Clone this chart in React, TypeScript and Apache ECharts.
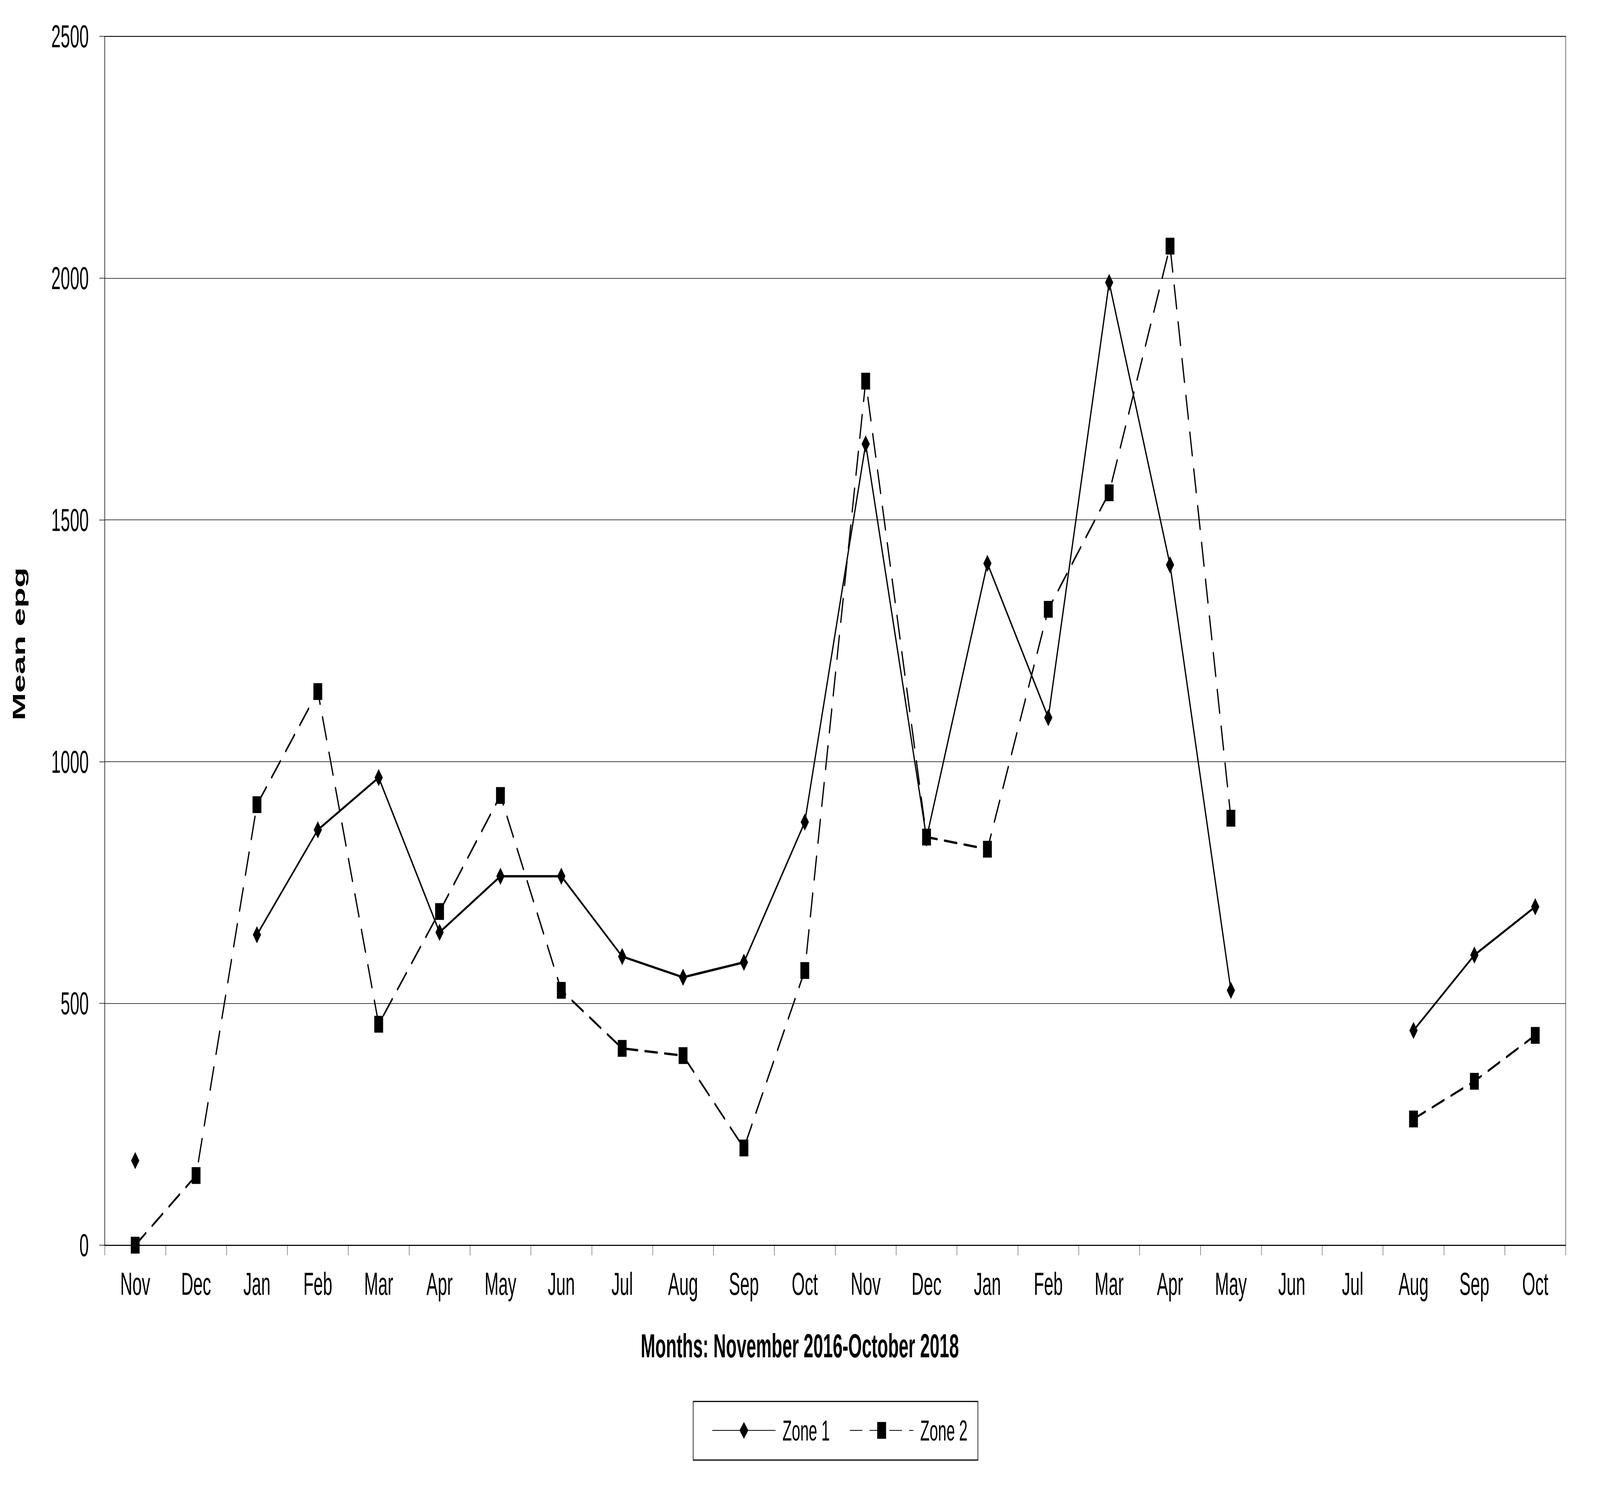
import React, { useEffect, useRef, useState } from "react";
import * as echarts from "echarts";

const months = [
  "Nov", "Dec", "Jan", "Feb", "Mar", "Apr", "May", "Jun", "Jul", "Aug", "Sep", "Oct",
  "Nov", "Dec", "Jan", "Feb", "Mar", "Apr", "May", "Jun", "Jul", "Aug", "Sep", "Oct",
];
const zone1: (number | null)[] = [
  175, null, 642, 859, 967, 647, 763, 763, 597, 554, 585, 875,
  1657, 842, 1410, 1091, 1991, 1407, 527, null, null, 444, 600, 700,
];
const zone2: (number | null)[] = [
  0, 144, 911, 1145, 457, 690, 930, 527, 407, 392, 201, 568,
  1787, 844, 819, 1315, 1556, 2066, 883, null, null, 261, 339, 434,
];
const seriesNames = ["Zone 1", "Zone 2"];
const yTitle = "Mean epg";
const xTitle = "Months: November 2016-October 2018";

const FONT = "Liberation Sans, Arial, Helvetica, sans-serif";
const W = 7788;
const H = 3852;

export default function App() {
  const ref = useRef<HTMLDivElement>(null);
  const [scale] = useState(() => ({
    sx: (window.innerWidth || W) / W,
    sy: (window.innerHeight || H) / H,
  }));
  useEffect(() => {
    if (!ref.current) return;
    const chart = echarts.init(ref.current, undefined, { renderer: "svg" });
    chart.setOption({
      animation: false,
      backgroundColor: "#ffffff",
      textStyle: { fontFamily: FONT, color: "#000" },
      grid: {
        left: 510,
        right: 167,
        top: 93,
        bottom: 665,
        show: true,
        borderColor: "#000",
        borderWidth: 2,
        backgroundColor: "transparent",
      },
      legend: {
        left: 3466,
        top: 3624,
        padding: 0,
        itemWidth: 308,
        itemHeight: 54,
        itemGap: 97,
        data: seriesNames,
        textStyle: {
          fontFamily: FONT,
          fontSize: 74,
          color: "#000",
          padding: [0, 0, 0, 29],
        },
      },
      xAxis: {
        type: "category",
        data: months,
        boundaryGap: true,
        axisLine: { show: true, lineStyle: { color: "#000", width: 2.5 } },
        axisTick: {
          show: true,
          inside: false,
          length: 26,
          interval: 0,
          lineStyle: { color: "#000", width: 1.5 },
        },
        axisLabel: {
          interval: 0,
          margin: 58,
          fontFamily: FONT,
          fontSize: 82,
          color: "#000",
        },
        splitLine: { show: false },
      },
      yAxis: {
        type: "value",
        min: 0,
        max: 2500,
        interval: 500,
        axisLine: { show: true, lineStyle: { color: "#000", width: 2 } },
        axisTick: {
          show: true,
          inside: false,
          length: 27,
          lineStyle: { color: "#000", width: 1.5 },
        },
        axisLabel: {
          margin: 78,
          fontFamily: FONT,
          fontSize: 82,
          color: "#000",
          formatter: (v: number) => String(v),
        },
        splitLine: { show: true, lineStyle: { color: "#000", width: 1.4 } },
      },
      graphic: [
        {
          type: "rect",
          shape: { x: 3374, y: 3587, width: 1386, height: 150 },
          style: { fill: "none", stroke: "#000", lineWidth: 3 },
          silent: true,
        },
        {
          type: "text",
          x: 92,
          y: 1648,
          rotation: Math.PI / 2,
          style: {
            text: yTitle,
            fontFamily: FONT,
            fontSize: 85,
            fontWeight: "bold",
            fill: "#000",
            align: "center",
            verticalAlign: "middle",
          },
        },
        {
          type: "text",
          x: 3893,
          y: 3445,
          style: {
            text: xTitle,
            fontFamily: FONT,
            fontSize: 85,
            fontWeight: "bold",
            fill: "#000",
            align: "center",
            verticalAlign: "middle",
          },
        },
      ],
      series: [
        {
          name: seriesNames[0],
          type: "line",
          data: zone1,
          connectNulls: false,
          symbol: "diamond",
          symbolSize: [40, 44],
          showAllSymbol: true,
          itemStyle: { color: "#000" },
          lineStyle: { color: "#000", width: 6, type: "solid" },
          z: 3,
        },
        {
          name: seriesNames[1],
          type: "line",
          data: zone2,
          connectNulls: false,
          symbol: "rect",
          symbolSize: 43,
          showAllSymbol: true,
          itemStyle: { color: "#000" },
          lineStyle: { color: "#000", width: 6, type: [60, 36], cap: "round" },
          z: 2,
        },
      ],
    });
    return () => chart.dispose();
  }, []);
  return (
    <div
      style={{
        position: "fixed",
        left: 0,
        top: 0,
        width: "100vw",
        height: "100vh",
        overflow: "hidden",
        background: "#fff",
      }}
    >
      <div
        ref={ref}
        style={{
          position: "absolute",
          left: 0,
          top: 0,
          width: W,
          height: H,
          transformOrigin: "0 0",
          transform: `scale(${scale.sx}, ${scale.sy})`,
        }}
      />
    </div>
  );
}
